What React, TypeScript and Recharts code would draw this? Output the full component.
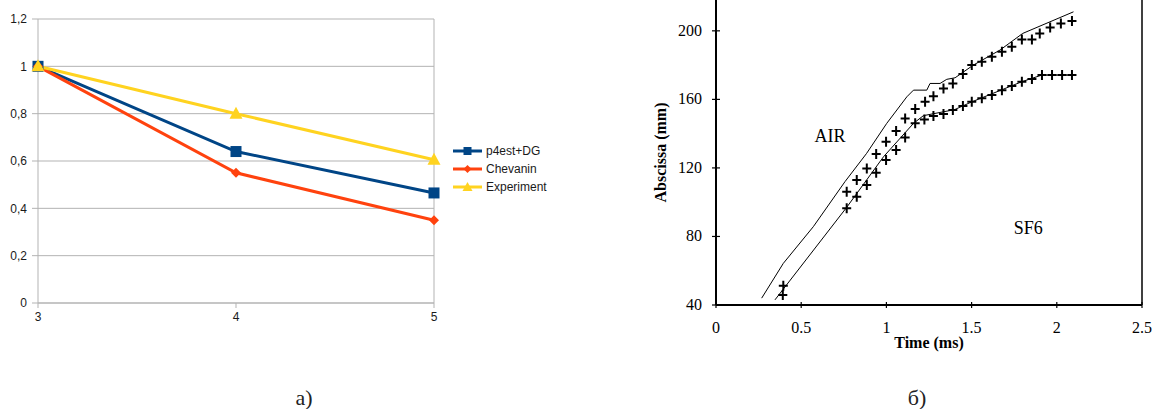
import React from 'react';
import {
  LineChart, Line, XAxis, YAxis, CartesianGrid, ReferenceLine, Legend,
  ComposedChart, Scatter, ReferenceDot,
} from 'recharts';

// ---------- Chart a) ----------
const categories = [3, 4, 5];
const p4estDG = [1, 0.64, 0.465];
const chevanin = [1, 0.55, 0.35];
const experiment = [1, 0.8, 0.605];
const yTicksA = [0, 0.2, 0.4, 0.6, 0.8, 1, 1.2];
const seriesNames = ['p4est+DG', 'Chevanin', 'Experiment'];

// ---------- Chart б) ----------
const airSim: [number, number][] = [
  [0.268, 44], [0.395, 64.3], [0.571, 85.7], [0.757, 112], [0.884, 128.5], [1.002, 146],
  [1.12, 161.5], [1.159, 165.4], [1.237, 165.4], [1.256, 169.3], [1.315, 169.3],
  [1.354, 171.7], [1.403, 172.6], [1.51, 180], [1.667, 188.8], [1.8, 198.5], [2.098, 211.1],
];
const sf6Sim: [number, number][] = [
  [0.346, 43], [0.767, 97], [0.983, 126.5], [1.159, 146], [1.217, 150.5], [1.4, 154],
  [1.5, 158.5], [1.8, 170.5], [1.913, 174.2], [2.09, 174.2],
];
const airExp: [number, number][] = [
  [0.395, 51.3], [0.767, 106.1], [0.826, 112.9], [0.885, 119.7], [0.94, 128.1], [0.998, 135.3],
  [1.057, 141.5], [1.11, 148.9], [1.169, 154.4], [1.227, 158.6], [1.276, 161.9], [1.335, 166.4],
  [1.39, 169.3], [1.449, 174.8], [1.501, 180], [1.56, 182], [1.619, 184.9], [1.678, 187.8],
  [1.736, 190.7], [1.795, 195], [1.854, 195], [1.9, 198.5], [1.961, 202], [2.024, 204.3], [2.089, 205.7],
];
const sf6Exp: [number, number][] = [
  [0.392, 45.8], [0.767, 96.4], [0.826, 103.2], [0.885, 110], [0.94, 117.2], [0.998, 124.6],
  [1.057, 130.4], [1.11, 137.8], [1.169, 146], [1.223, 148.3], [1.276, 150.3], [1.335, 151.4],
  [1.39, 153.8], [1.449, 156.1], [1.501, 158.6], [1.56, 160.6], [1.619, 162.5], [1.678, 165.4],
  [1.736, 167.8], [1.795, 170.3], [1.854, 171.9], [1.913, 174.2], [1.972, 174.2], [2.031, 174.2], [2.089, 174.2],
];
const xTicksB = [0, 0.5, 1, 1.5, 2, 2.5];
const yTicksB = [40, 80, 120, 160, 200];

const dataA = categories.map((x, i) => ({ x, p4est: p4estDG[i], chev: chevanin[i], exp: experiment[i] }));
const toObj = (arr: [number, number][]) => arr.map(([t, y]) => ({ t, y }));

const BLUE = '#004586';
const RED = '#ff420e';
const YELLOW = '#ffd320';
const SANS = '"Liberation Sans", Arial, sans-serif';
const SERIF = '"Liberation Serif", "Times New Roman", serif';

const Square = (p: any) => (
  <rect key={p.key} x={p.cx - 5.5} y={p.cy - 5.5} width={11} height={11} fill={BLUE} />
);
const Diamond = (p: any) => (
  <path key={p.key} d={`M${p.cx} ${p.cy - 5}L${p.cx + 5} ${p.cy}L${p.cx} ${p.cy + 5}L${p.cx - 5} ${p.cy}Z`} fill={RED} />
);
const Triangle = (p: any) => (
  <path key={p.key} d={`M${p.cx} ${p.cy - 7}L${p.cx + 6.5} ${p.cy + 5}L${p.cx - 6.5} ${p.cy + 5}Z`} fill={YELLOW} />
);

const LegendA = () => {
  const colors = [BLUE, RED, YELLOW];
  return (
    <svg width={120} height={56} style={{ display: 'block' }}>
      {seriesNames.map((n, i) => {
        const y = 10 + i * 18;
        const cx = 14.5;
        return (
          <g key={n}>
            <line x1={0} x2={29} y1={y} y2={y} stroke={colors[i]} strokeWidth={3} />
            {i === 0 && <rect x={cx - 4} y={y - 4} width={8} height={8} fill={BLUE} />}
            {i === 1 && <path d={`M${cx} ${y - 4}L${cx + 4} ${y}L${cx} ${y + 4}L${cx - 4} ${y}Z`} fill={RED} />}
            {i === 2 && <path d={`M${cx} ${y - 5}L${cx + 5} ${y + 4}L${cx - 5} ${y + 4}Z`} fill={YELLOW} />}
            <text x={33} y={y + 4} fontSize={12} fontFamily={SANS} fill="#1a1a1a">{n}</text>
          </g>
        );
      })}
    </svg>
  );
};

const XTickB = (p: any) => (
  <g>
    <line x1={p.x} x2={p.x} y1={p.y - 3} y2={p.y + 3} stroke="#000" strokeWidth={1.2} />
    <text x={p.x} y={p.y + 28} textAnchor="middle" fontSize={16} fontFamily={SERIF} fill="#000">
      {String(p.payload.value)}
    </text>
  </g>
);
const YTickB = (p: any) => (
  <g>
    <line x1={p.x - 4} x2={p.x + 4} y1={p.y} y2={p.y} stroke="#000" strokeWidth={1.2} />
    <text x={p.x - 14} y={p.y + 5} textAnchor="end" fontSize={16} fontFamily={SERIF} fill="#000">
      {String(p.payload.value)}
    </text>
  </g>
);

const Cross = (p: any) => (
  <path
    d={`M${p.cx - 4.5} ${p.cy}H${p.cx + 4.5}M${p.cx} ${p.cy - 5}V${p.cy + 5}`}
    stroke="#000"
    strokeWidth={2}
    fill="none"
  />
);

export default function App() {
  return (
    <div style={{ position: 'absolute', left: 0, top: 0, width: 1155, height: 409, background: '#fff', overflow: 'hidden' }}>
      <div style={{ position: 'absolute', left: 0, top: 0 }}>
        <LineChart width={600} height={340} data={dataA} margin={{ top: 19, right: 46, bottom: 0, left: 0 }}>
          <CartesianGrid vertical={false} stroke="#b3b3b3" />
          <XAxis
            type="number"
            dataKey="x"
            domain={[3, 5]}
            ticks={categories}
            height={37}
            axisLine={{ stroke: '#b3b3b3' }}
            tickLine={{ stroke: '#b3b3b3' }}
            tickSize={5}
            tickMargin={4}
            tick={{ fontSize: 12, fontFamily: SANS, fill: '#1a1a1a' }}
            interval={0}
          />
          <YAxis
            type="number"
            domain={[0, 1.2]}
            ticks={yTicksA}
            width={38}
            axisLine={{ stroke: '#b3b3b3' }}
            tickLine={{ stroke: '#b3b3b3' }}
            tickSize={6}
            tickMargin={5}
            tick={{ fontSize: 12, fontFamily: SANS, fill: '#1a1a1a' }}
            tickFormatter={(v: number) => String(v).replace('.', ',')}
            interval={0}
          />
          <ReferenceLine x={5} stroke="#b3b3b3" />
          <Legend
            layout="vertical"
            align="right"
            verticalAlign="middle"
            content={<LegendA />}
            wrapperStyle={{ left: 453, top: 141, width: 120, height: 56 }}
          />
          <Line dataKey="p4est" name="p4est+DG" stroke={BLUE} strokeWidth={3} dot={Square} isAnimationActive={false} />
          <Line dataKey="chev" name="Chevanin" stroke={RED} strokeWidth={3} dot={Diamond} isAnimationActive={false} />
          <Line dataKey="exp" name="Experiment" stroke={YELLOW} strokeWidth={3} dot={Triangle} isAnimationActive={false} />
        </LineChart>
      </div>

      <div style={{ position: 'absolute', left: 640, top: 0 }}>
        <ComposedChart width={515} height={360} margin={{ top: 0, right: 13, bottom: 0, left: 0 }}>
          <XAxis
            type="number"
            dataKey="t"
            domain={[0, 2.5]}
            ticks={xTicksB}
            allowDataOverflow
            height={55}
            axisLine={{ stroke: '#000', strokeWidth: 2 }}
            tickLine={false}
            tickSize={0}
            tickMargin={0}
            tick={<XTickB />}
            interval={0}
            label={{ value: 'Time (ms)', position: 'insideBottom', offset: 12, fill: '#000', fontSize: 16, fontWeight: 'bold', fontFamily: SERIF }}
          />
          <YAxis
            type="number"
            domain={[40, 218]}
            ticks={yTicksB}
            allowDataOverflow
            width={76}
            axisLine={{ stroke: '#000', strokeWidth: 2 }}
            tickLine={false}
            tickSize={0}
            tickMargin={0}
            tick={<YTickB />}
            interval={0}
            label={{ value: 'Abscissa (mm)', angle: -90, position: 'insideLeft', offset: 20, fill: '#000', fontSize: 16, fontWeight: 'bold', fontFamily: SERIF, style: { textAnchor: 'middle' } }}
          />
          <ReferenceLine x={2.5} stroke="#000" strokeWidth={1.5} />
          <Line data={toObj(airSim)} dataKey="y" stroke="#000" strokeWidth={1} dot={false} isAnimationActive={false} />
          <Line data={toObj(sf6Sim)} dataKey="y" stroke="#000" strokeWidth={1} dot={false} isAnimationActive={false} />
          <Scatter data={toObj(airExp)} dataKey="y" shape={Cross} isAnimationActive={false} />
          <Scatter data={toObj(sf6Exp)} dataKey="y" shape={Cross} isAnimationActive={false} />
          <ReferenceDot x={0.669} y={138.6} r={0} fill="none" stroke="none"
            label={{ value: 'AIR', position: 'center', fill: '#000', fontSize: 18, fontFamily: SERIF }} />
          <ReferenceDot x={1.832} y={84.9} r={0} fill="none" stroke="none"
            label={{ value: 'SF6', position: 'center', fill: '#000', fontSize: 18, fontFamily: SERIF }} />
        </ComposedChart>
      </div>

      <div style={{ position: 'absolute', left: 254, top: 384, width: 100, lineHeight: '28px', textAlign: 'center', fontFamily: SERIF, fontSize: 22, color: '#222' }}>
        a)
      </div>
      <div style={{ position: 'absolute', left: 867, top: 384, width: 100, lineHeight: '28px', textAlign: 'center', fontFamily: SERIF, fontSize: 22, color: '#222' }}>
        б)
      </div>
    </div>
  );
}
